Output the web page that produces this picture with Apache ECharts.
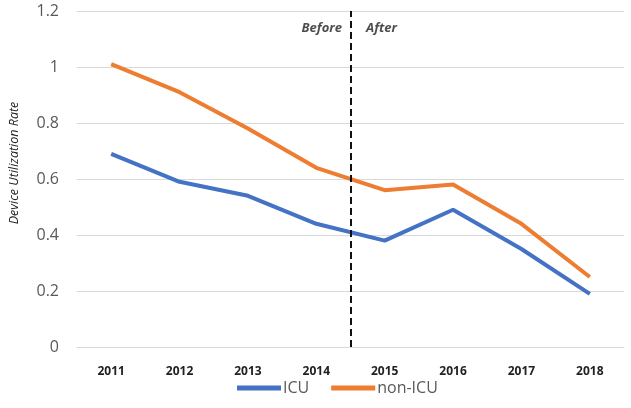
<!DOCTYPE html>
<html>
<head>
<meta charset="utf-8">
<script src="https://cdn.jsdelivr.net/npm/echarts@6/dist/echarts.min.js"></script>
<style>html,body{margin:0;padding:0;background:#fff}#c{width:631px;height:408px}</style>
</head>
<body>
<div id="c"></div>
<script>
const years = ['2011','2012','2013','2014','2015','2016','2017','2018'];
const icu = [0.69, 0.59, 0.54, 0.44, 0.38, 0.49, 0.35, 0.19];
const nonIcu = [1.01, 0.91, 0.78, 0.64, 0.56, 0.58, 0.44, 0.25];
const yTicks = [0, 0.2, 0.4, 0.6, 0.8, 1, 1.2];
const dividerPos = 4.5; // between 2014 and 2015 (category positions 1..8)
const annotY = 1.14;
const annotTexts = ['Before', 'After'];

const chart = echarts.init(document.getElementById('c'));
const font = '"Open Sans", "Liberation Sans", sans-serif';
chart.setOption({
  animation: false,
  textStyle: { fontFamily: font },
  grid: { left: 76, right: 7, top: 11, bottom: 61 },
  legend: {
    data: ['ICU', 'non-ICU'],
    left: 232, bottom: 7,
    icon: 'rect', itemWidth: 44, itemHeight: 5, itemGap: 22,
    textStyle: { fontSize: 16, color: '#595959', fontFamily: font, padding: [0,0,0,-3] }
  },
  xAxis: [{
    type: 'category', data: years,
    axisLine: { lineStyle: { color: '#d9d9d9', width: 1 } },
    axisTick: { show: false },
    axisLabel: { fontSize: 12, fontWeight: 'bold', color: '#222', margin: 19 }
  }, {
    type: 'value', min: 0.5, max: 8.5, show: false
  }],
  yAxis: [{
    type: 'value', min: yTicks[0], max: yTicks[yTicks.length-1], interval: 0.2,
    axisLine: { show: false }, axisTick: { show: false },
    splitLine: { lineStyle: { color: '#d9d9d9', width: 1 } },
    axisLabel: { fontSize: 16, color: '#595959', margin: 18,
      formatter: v => String(Math.round(v*10)/10) },
    name: 'Device Utilization Rate', nameLocation: 'middle', nameGap: 56,
    nameTextStyle: { fontSize: 12.5, fontStyle: 'italic', color: '#222', padding: [0,0,0,32] }
  }],
  series: [{
    name: 'ICU', type: 'line', data: icu, showSymbol: false,
    lineStyle: { color: '#4472C4', width: 4 }, itemStyle: { color: '#4472C4' }
  }, {
    name: 'non-ICU', type: 'line', data: nonIcu, showSymbol: false,
    lineStyle: { color: '#ED7D31', width: 4 }, itemStyle: { color: '#ED7D31' }
  }, {
    name: 'divider', type: 'scatter', xAxisIndex: 1, symbolSize: 1,
    itemStyle: { color: 'rgba(0,0,0,0)' },
    silent: true,
    data: [
      { value: [dividerPos, annotY], label: { show: true, formatter: annotTexts[0], position: 'left', distance: 8 } },
      { value: [dividerPos, annotY], label: { show: true, formatter: annotTexts[1], position: 'right', distance: 15 } }
    ],
    label: { fontSize: 13, fontStyle: 'italic', fontWeight: 'bold', color: '#222' },
    markLine: {
      silent: true, symbol: 'none', label: { show: false },
      lineStyle: { color: '#111', type: [7, 4], width: 2 },
      data: [{ xAxis: dividerPos }]
    }
  }]
});
</script>
</body>
</html>
